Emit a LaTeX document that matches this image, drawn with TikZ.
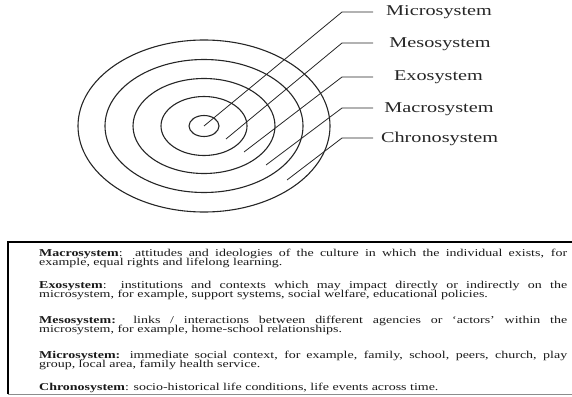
\documentclass[tikz,border=0pt]{standalone}
\usepackage{fontspec}
\setmainfont{Liberation Serif}
\newfontfamily\labfont[FakeStretch=1.35]{Liberation Serif}
\newfontfamily\bodyfont[FakeStretch=1.33]{Liberation Serif}
\begin{document}
\begin{tikzpicture}[x=1pt,y=-1pt,
  ring/.style={draw=black!85,line width=1.1pt},
  leader/.style={draw=black!85,line width=0.8pt},
  lab/.style={anchor=base,inner sep=0pt,font=\labfont\fontsize{15}{15}\selectfont,text=black!85},
  para/.style={anchor=base west,inner sep=0pt,text=black!90,font=\bodyfont\fontsize{10.5}{9.8}\selectfont},
  frame/.style={draw=black,line width=2pt}]
\useasboundingbox (0,0) rectangle (572,396);
% rings
\coordinate (c) at (204,126);
\draw[ring] (c) ellipse [x radius=15,y radius=10.5];
\draw[ring] (c) ellipse [x radius=43,y radius=29.5];
\draw[ring] (c) ellipse [x radius=71,y radius=47.5];
\draw[ring] (c) ellipse [x radius=99,y radius=66.5];
\draw[ring] (c) ellipse [x radius=126,y radius=86];
% labels
\node[lab] (l1) at (439,16) {Microsystem};
\node[lab] (l2) at (440,47.5) {Mesosystem};
\node[lab] (l3) at (438.5,80.5) {Exosystem};
\node[lab] (l4) at (439,112) {Macrosystem};
\node[lab] (l5) at (439.5,142) {Chronosystem};
% leader coordinates
\coordinate (s1) at (204,126); \coordinate (k1) at (342,12);  \coordinate (e1) at (373,12);
\coordinate (s2) at (226,139); \coordinate (k2) at (342,43);  \coordinate (e2) at (373,43);
\coordinate (s3) at (244,152); \coordinate (k3) at (342,77);  \coordinate (e3) at (373,77);
\coordinate (s4) at (266,165); \coordinate (k4) at (342,108); \coordinate (e4) at (373,108);
\coordinate (s5) at (287,180); \coordinate (k5) at (342,138); \coordinate (e5) at (373,138);
\foreach \i in {1,...,5}{\draw[leader] (s\i) -- (k\i) -- (e\i);}
% box
\coordinate (bl) at (8,394);
\coordinate (tl) at (8,242);
\coordinate (tr) at (573,242);
\coordinate (br) at (573,394);
\draw[draw=black!45,line width=0.8pt] (bl) -- (br);
\draw[frame] (bl) -- (tl) -- (tr);
% paragraphs
\node[para] (p1) at (39,256) {\parbox[t]{528pt}{\textbf{Macrosystem}:\ \ attitudes and ideologies of the culture in which the individual exists, for\linebreak example, equal rights and lifelong learning.}};
\node[para] (p2) at (39,288) {\parbox[t]{528pt}{\textbf{Exosystem}: institutions and contexts which may impact directly or indirectly on the\linebreak microsystem, for example, support systems, social welfare, educational policies.}};
\node[para] (p3) at (39,323) {\parbox[t]{528pt}{\textbf{Mesosystem:} links / interactions between different agencies or ‘actors’ within the\linebreak microsystem, for example, home-school relationships.}};
\node[para] (p4) at (39,358) {\parbox[t]{528pt}{\textbf{Microsystem:} immediate social context, for example, family, school, peers, church, play\linebreak group, local area, family health service.}};
\node[para] (p5) at (39,390) {\parbox[t]{528pt}{\textbf{Chronosystem}: socio-historical life conditions, life events across time.}};
\end{tikzpicture}
\end{document}
